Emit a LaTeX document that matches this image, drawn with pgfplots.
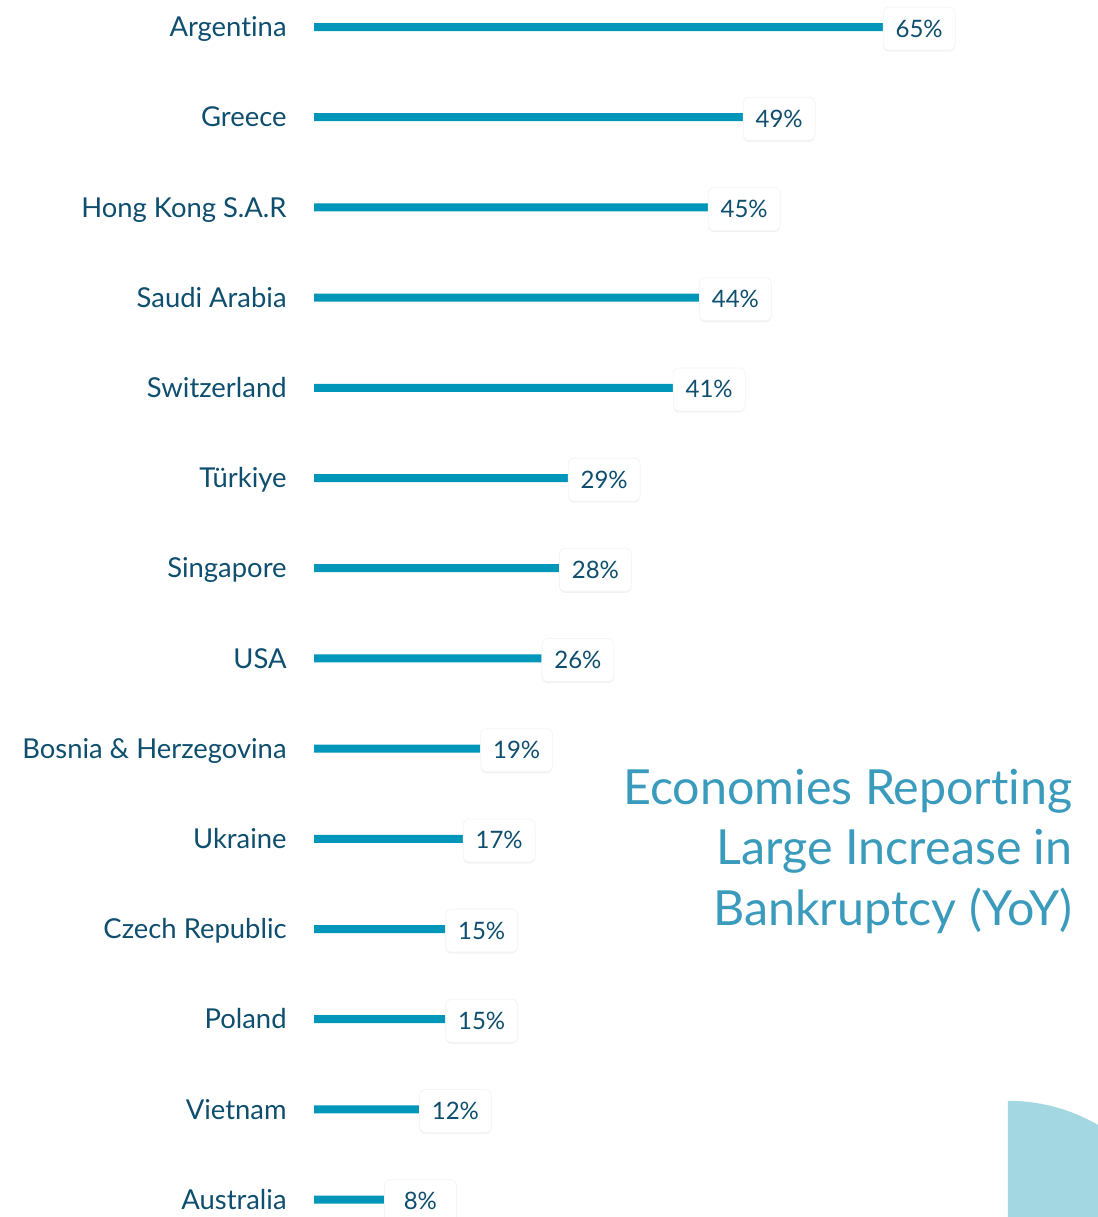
\documentclass[border=0pt]{standalone}
\usepackage{fontspec}
\setmainfont{Lato}[Ligatures=NoCommon]
\usepackage{pgfplots}
\pgfplotsset{compat=1.18}
\usetikzlibrary{shadows}
\definecolor{barc}{RGB}{0,150,185}
\definecolor{navy}{RGB}{14,78,110}
\definecolor{titlec}{RGB}{58,155,188}
\definecolor{qdisc}{RGB}{163,216,226}
\begin{document}
\begin{tikzpicture}
\begin{axis}[name=ax, scale only axis, width=549pt, height=608.5pt,
  xmin=-35.886, xmax=89.6, ymin=-0.2993, ymax=13.1929, y dir=reverse,
  axis line style={draw=none}, tick style={draw=none},
  xtick=\empty, ytick={0,...,13},
  yticklabels={Argentina,Greece,Hong Kong S.A.R,Saudi Arabia,Switzerland,Türkiye,Singapore,USA,Bosnia \& Herzegovina,Ukraine,Czech Republic,Poland,Vietnam,Australia},
  major tick length=0pt,
  yticklabel style={anchor=mid east, xshift=143.5pt, yshift=-2.3pt, inner sep=0pt, font=\fontsize{13.7}{16}\selectfont, text=navy},
  xbar, bar width=4pt, clip=false,
  /pgf/number format/assume math mode=true,
  nodes near coords={\pgfmathprintnumber{\pgfplotspointmeta}\%},
  nodes near coords style={anchor=west, yshift=-0.8pt, fill=white, draw=black!4, line width=0.4pt, rounded corners=3pt, minimum width=36pt, minimum height=21.5pt, inner sep=0pt, text=navy, font=\fontsize{12}{14}\selectfont, drop shadow={opacity=0.1, shadow xshift=0pt, shadow yshift=-0.8pt}},
]
\path[fill=qdisc] (axis cs:79.31,13.90) -- ++(90pt,0pt) arc[start angle=0,end angle=90,radius=90pt] -- cycle;
\addplot[draw=none, fill=barc] coordinates {
(65,0) (49,1) (45,2) (44,3) (41,4) (29,5) (28,6) (26,7) (19,8) (17,9) (15,10) (15,11) (12,12) (8,13)};
\node[anchor=base east, inner sep=0pt, font=\fontsize{24.2}{30}\selectfont, text=titlec] at (axis cs:86.74,8.625) {Economies Reporting};
\node[anchor=base east, inner sep=0pt, font=\fontsize{24.2}{30}\selectfont, text=titlec] at (axis cs:86.74,9.290) {Large Increase in};
\node[anchor=base east, inner sep=0pt, font=\fontsize{24.2}{30}\selectfont, text=titlec] at (axis cs:86.74,9.956) {Bankruptcy (YoY)};
\end{axis}
\pgfresetboundingbox
\useasboundingbox (ax.south west) rectangle (ax.north east);
\end{tikzpicture}
\end{document}
